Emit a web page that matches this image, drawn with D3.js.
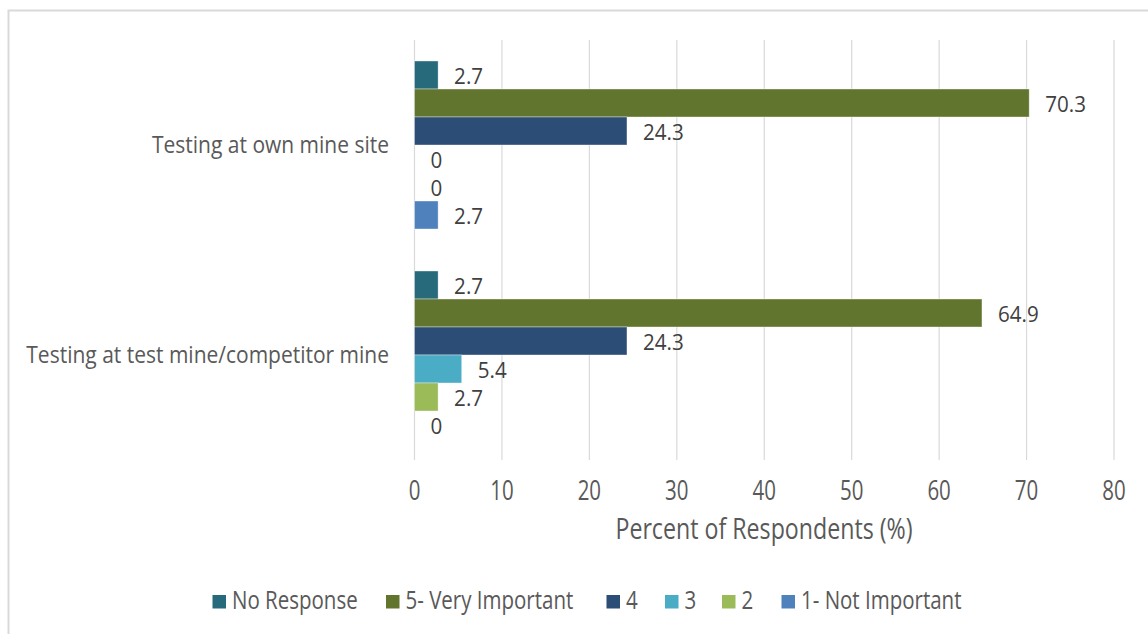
<!DOCTYPE html>
<html>
<head>
<meta charset="utf-8">
<script src="https://cdn.jsdelivr.net/npm/d3@7"></script>
<style>
  html, body { margin: 0; padding: 0; background: #ffffff; }
  svg { display: block; }
  text { font-family: "Open Sans", "DejaVu Sans", sans-serif; }
</style>
</head>
<body>
<svg id="chart" width="1148" height="634"></svg>
<script>
// Survey categories (top to bottom)
const categories = ["Testing at own mine site", "Testing at test mine/competitor mine"];

// Response levels, in the order they are stacked inside each category
const seriesNames = ["No Response", "5- Very Important", "4", "3", "2", "1- Not Important"];
const seriesColors = ["#276a7c", "#62752f", "#2c4d75", "#4bacc6", "#9bbb59", "#4f81bd"];

// Percent of respondents per level, one value per category
const noResponse    = [2.7, 2.7];
const veryImportant = [70.3, 64.9];
const level4        = [24.3, 24.3];
const level3        = [0, 5.4];
const level2        = [0, 2.7];
const notImportant  = [2.7, 0];

const seriesValues = [noResponse, veryImportant, level4, level3, level2, notImportant];

const xTicks = [0, 10, 20, 30, 40, 50, 60, 70, 80];
const xTitle = "Percent of Respondents (%)";

const svg = d3.select("#chart");

// outer chart frame
svg.append("rect")
  .attr("x", 8.5).attr("y", 10.5)
  .attr("width", 1160).attr("height", 640)
  .attr("fill", "#ffffff")
  .attr("stroke", "#d9d9d9")
  .attr("stroke-width", 2);

const plot = { left: 414.5, right: 1114, top: 40, bottom: 460 };

const x = d3.scaleLinear().domain([0, 80]).range([plot.left, plot.right]);
const y0 = d3.scaleBand().domain(categories).range([plot.top, plot.bottom])
  .paddingInner(0.2).paddingOuter(0.1);
const y1 = d3.scaleBand().domain(seriesNames).range([0, y0.bandwidth()]).padding(0);

// text helper with optional vertical stretch
function label(g, str, tx, ty, opts) {
  return g.append("text")
    .attr("transform", `translate(${tx},${ty}) scale(1,${opts.sy || 1})`)
    .attr("font-size", opts.size)
    .attr("fill", opts.fill)
    .attr("text-anchor", opts.anchor || "start")
    .text(str);
}

// vertical gridlines
svg.append("g").selectAll("line")
  .data(xTicks)
  .join("line")
  .attr("x1", d => x(d)).attr("x2", d => x(d))
  .attr("y1", plot.top).attr("y2", plot.bottom)
  .attr("stroke", "#d9d9d9")
  .attr("stroke-width", 1.2);

// x axis tick labels
const xAxisG = svg.append("g");
xTicks.forEach(t => label(xAxisG, String(t), x(t), 500, { size: 20.5, fill: "#595959", anchor: "middle", sy: 1.3 }));

// axis title
label(svg.append("g"), xTitle, 764, 539, { size: 23.2, fill: "#595959", anchor: "middle", sy: 1.22 });

// category labels
const catG = svg.append("g");
categories.forEach(c => label(catG, c, 389, y0(c) + y0.bandwidth() / 2 + 8, { size: 21, fill: "#595959", anchor: "end", sy: 1.14 }));

// bars and value labels
const rows = [];
categories.forEach((c, ci) => {
  seriesNames.forEach((s, si) => {
    rows.push({ cat: c, series: s, color: seriesColors[si], value: seriesValues[si][ci] });
  });
});

const barG = svg.append("g");
barG.selectAll("rect")
  .data(rows.filter(d => d.value > 0))
  .join("rect")
  .attr("x", x(0))
  .attr("y", d => y0(d.cat) + y1(d.series))
  .attr("width", d => x(d.value) - x(0))
  .attr("height", y1.bandwidth())
  .attr("fill", d => d.color)
  .attr("stroke", "#ffffff")
  .attr("stroke-opacity", 0.5)
  .attr("stroke-width", 0.75);

const valG = svg.append("g");
rows.forEach(d => {
  label(valG, String(d.value), x(d.value) + 16, y0(d.cat) + y1(d.series) + y1.bandwidth() / 2 + 8.5,
    { size: 20.6, fill: "#404040", sy: 1.08 });
});

// legend
const legendG = svg.append("g");
const legendX = [212.5, 386, 606.5, 665, 722, 781.5];
seriesNames.forEach((s, i) => {
  legendG.append("rect")
    .attr("x", legendX[i]).attr("y", 595)
    .attr("width", 13.5).attr("height", 13.5)
    .attr("fill", seriesColors[i]);
  label(legendG, s, legendX[i] + 19.5, 609, { size: 20.5, fill: "#595959", sy: 1.25 });
});
</script>
</body>
</html>
